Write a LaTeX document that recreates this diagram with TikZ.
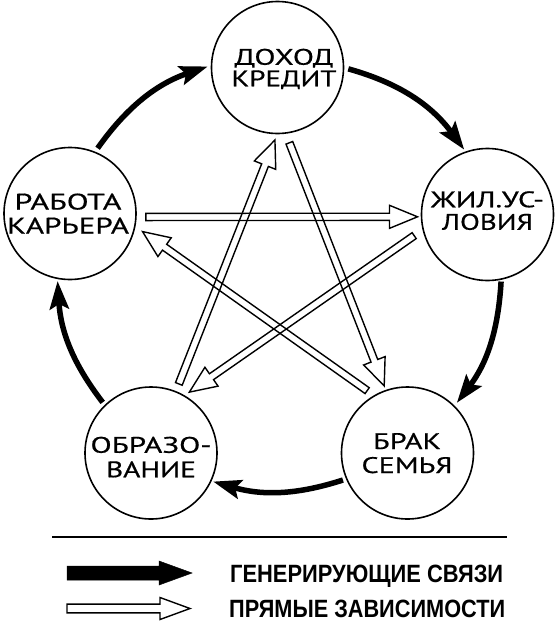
\documentclass[tikz,border=0pt]{standalone}
\usepackage{fontspec}
\usepackage{graphicx}
\usetikzlibrary{calc,arrows.meta}
\newfontfamily\cfam{PT Sans}[FakeBold=0.5]
\newfontfamily\lfam{Liberation Sans}[BoldFont={Liberation Sans Bold}]
\newcommand\cfont[1]{\cfam\fontsize{22.5pt}{#1pt}\selectfont}
\newcommand\lfont{\lfam\bfseries\fontsize{25pt}{27pt}\selectfont}
\newcommand\fitw[2]{\resizebox{#1}{\height}{#2}}
\newcommand\arrpoly[6]{%
  \path (#2) coordinate (apa) (#3) coordinate (apb);
  \path ($(apb)!#6!(apa)$) coordinate (aph);
  \draw[#1] ($(apa)!#4!90:(apb)$) -- ($(aph)!#4!90:(apb)$) -- ($(aph)!#5!90:(apb)$) -- (apb)
    -- ($(aph)!#5!-90:(apb)$) -- ($(aph)!#4!-90:(apb)$) -- ($(apa)!#4!-90:(apb)$) -- cycle;
}
\tikzset{
  circ/.style={circle, draw, line width=1.6pt, minimum size=132pt, inner sep=0pt, outer sep=0pt},
  ctext/.style={align=center, inner sep=0pt, text depth=0pt},
  blk/.style={line width=5.5pt, -{Stealth[length=28pt,width=19pt,inset=5pt]}},
  openarr/.style={line width=1.4pt, line join=miter},
  fillarr/.style={fill=black, draw=black, line width=0.5pt},
  legtext/.style={font=\lfont, inner sep=0pt, text depth=0pt, anchor=west},
}
\begin{document}
\begin{tikzpicture}[x=1pt,y=-1pt]
\useasboundingbox (0,0) rectangle (559,622);
% circles
\node[circ, label={[ctext, font=\cfont{21.5}, xshift=6.5pt]center:{\fitw{99pt}{ДОХОД}\\\fitw{105pt}{КРЕДИТ}}}] (T) at (277.5,67.5) {};
\node[circ, label={[ctext, font=\cfont{24}, xshift=-2pt]center:{\fitw{107pt}{РАБОТА}\\\fitw{122pt}{КАРЬЕРА}}}] (L) at (70,213.5) {};
\node[circ, label={[ctext, font=\cfont{22.5}, yshift=4pt]center:{\fitw{113pt}{ЖИЛ.УС-}\\\fitw{91pt}{ЛОВИЯ}}}] (R) at (487.5,214.5) {};
\node[circ, label={[ctext, font=\cfont{24}, xshift=-0.5pt]center:{\fitw{68pt}{БРАК}\\\fitw{91pt}{СЕМЬЯ}}}] (BR) at (407.5,453) {};
\node[circ, label={[ctext, font=\cfont{24.5}, yshift=-4pt]center:{\fitw{121pt}{ОБРАЗО-}\\\fitw{90pt}{ВАНИЕ}}}] (BL) at (151,453) {};
% generating links (black arcs)
\draw[blk, shorten <=5pt, shorten >=4pt] (L.68) to[bend left=18] (T.178);
\draw[blk, shorten <=5pt, shorten >=3pt] (T.0) to[bend left=19] (R.109);
\draw[blk, shorten <=2.5pt, shorten >=4.4pt] (R.-78) to[bend left=17] (BR.45);
\draw[blk, shorten <=4pt, shorten >=2.4pt] (BR.203) to[bend left=17] (BL.-25);
\draw[blk, shorten <=4pt, shorten >=2.7pt] (BL.134) to[bend left=17] (L.259);
% direct dependencies (open arrows)
\arrpoly{openarr}{$(L.-3)!10pt!(R.182)$}{$(R.182)!4pt!(L.-3)$}{3.6pt}{11.5pt}{28pt}
\arrpoly{openarr}{$(BL.68)!8.5pt!(T.270)$}{$(T.270)!7pt!(BL.68)$}{3.6pt}{11.5pt}{27pt}
\arrpoly{openarr}{$(T.277)!10.5pt!(BR.109)$}{$(BR.109)!5pt!(T.277)$}{3.6pt}{11.5pt}{27pt}
\arrpoly{openarr}{$(R.193)!11pt!(BL.60)$}{$(BL.60)!6.5pt!(R.193)$}{3.6pt}{11.5pt}{27pt}
\arrpoly{openarr}{$(BR.120)!9pt!(L.-11)$}{$(L.-11)!9.5pt!(BR.120)$}{3.6pt}{11.5pt}{27pt}
% legend
\coordinate (rl) at (52,537);
\coordinate (rr) at (507,537);
\draw[line width=1.5pt] (rl) -- (rr);
\coordinate (ga) at (67,573);
\coordinate (gb) at (192,573);
\coordinate (pa) at (67,608.5);
\coordinate (pb) at (190,608.5);
\arrpoly{fillarr}{ga}{gb}{7pt}{12pt}{33pt}
\arrpoly{openarr}{pa}{pb}{4.4pt}{11pt}{30pt}
\node[legtext] (gt) at (230,573.5) {\fitw{273pt}{ГЕНЕРИРУЮЩИЕ СВЯЗИ}};
\node[legtext] (pt) at (229,608.5) {\fitw{276pt}{ПРЯМЫЕ ЗАВИСИМОСТИ}};
\end{tikzpicture}
\end{document}
